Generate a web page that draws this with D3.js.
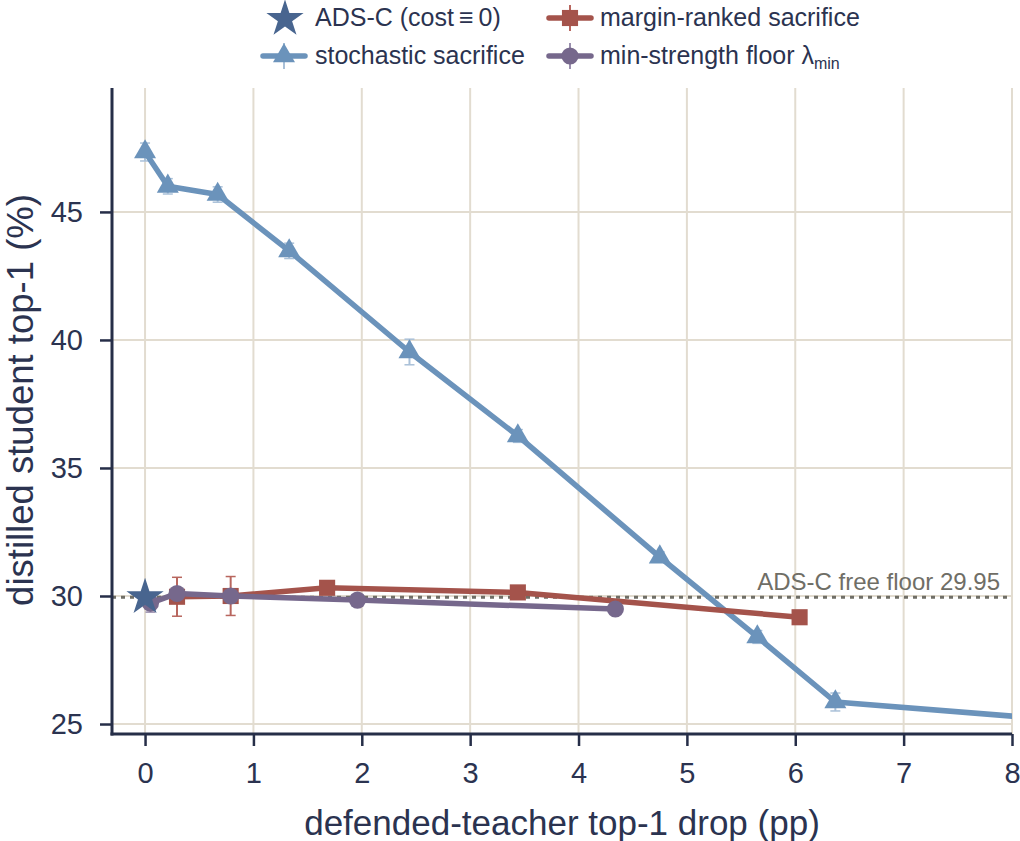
<!DOCTYPE html>
<html><head><meta charset="utf-8">
<script src="https://cdn.jsdelivr.net/npm/d3@7"></script>
<style>body{margin:0;background:#fff}svg{display:block}text{font-family:"Liberation Sans",Arial,sans-serif}</style>
</head><body><svg id="c" width="1020" height="841"></svg>
<script>
// ---- data ----
const xTicks = [0,1,2,3,4,5,6,7,8];
const yTicks = [25,30,35,40,45];
const stochX = [0, 0.21, 0.67, 1.33, 2.44, 3.44, 4.75, 5.65, 6.37, 9.0];
const stochY = [47.34, 46.0, 45.68, 43.48, 39.53, 36.25, 31.52, 28.4, 25.86, 24.97];
const stochE = [0.35, 0.3, 0.3, 0.3, 0.5, 0.25, 0.2, 0.25, 0.35, 0.2];
const marginX = [0.295, 0.79, 1.68, 3.44, 6.04];
const marginY = [29.97, 30.0, 30.32, 30.14, 29.17];
const marginE = [0.76, 0.76, 0.15, 0.15, 0.1];
const floorX = [0.05, 0.295, 0.79, 1.96, 4.34];
const floorY = [29.72, 30.1, 30.0, 29.84, 29.49];
const floorE = [0.35, 0.15, 0.1, 0.1, 0.1];
const adsX = [0], adsY = [29.95];
const floorValue = 29.95;
const floorLabel = "ADS-C free floor 29.95";

const svg = d3.select("#c");
const L=112, T=88, R=1012, B=734;
const x = d3.scaleLinear().domain([-0.305, 8]).range([L, R]);
const y = d3.scaleLinear().domain([24.61, 49.84]).range([B, T]);
const cText="#2b3350", cAxis="#262e48", cGrid="#e2dcd0";
const cBlue="#6b93bb", cBlueE="#a9c0d8", cRed="#a4534b", cRedE="#b8665e", cPur="#76688c", cPurE="#9a8fae", cStar="#48658f";

svg.append("defs").append("clipPath").attr("id","clip").append("rect")
  .attr("x",L).attr("y",T-20).attr("width",R-L).attr("height",B-T+20);

// grid
const g = svg.append("g");
g.selectAll(".gx").data(xTicks).join("line").attr("x1",d=>x(d)).attr("x2",d=>x(d))
  .attr("y1",T).attr("y2",B).attr("stroke",cGrid).attr("stroke-width",2);
g.selectAll(".gy").data(yTicks).join("line").attr("x1",L).attr("x2",R)
  .attr("y1",d=>y(d)).attr("y2",d=>y(d)).attr("stroke",cGrid).attr("stroke-width",2);

// floor line
svg.append("line").attr("x1",L).attr("x2",R).attr("y1",y(floorValue)).attr("y2",y(floorValue))
  .attr("stroke","#6f6e66").attr("stroke-width",3).attr("stroke-dasharray","4,5");
svg.append("text").attr("x",1000).attr("y",y(floorValue)-7).attr("text-anchor","end")
  .attr("font-size",24).attr("fill","#6f6e66").text(floorLabel);

const plot = svg.append("g").attr("clip-path","url(#clip)");
const line = d3.line().x(d=>x(d[0])).y(d=>y(d[1]));

function series(xs, ys, es, col, ecol, shape, size){
  const pts = xs.map((v,i)=>[v, ys[i], es[i]]);
  const eg = plot.append("g");
  pts.forEach(p=>{
    eg.append("line").attr("x1",x(p[0])).attr("x2",x(p[0])).attr("y1",y(p[1]-p[2])).attr("y2",y(p[1]+p[2]))
      .attr("stroke",ecol).attr("stroke-width",2);
    [p[1]-p[2], p[1]+p[2]].forEach(v=>eg.append("line").attr("x1",x(p[0])-5).attr("x2",x(p[0])+5)
      .attr("y1",y(v)).attr("y2",y(v)).attr("stroke",ecol).attr("stroke-width",1.5));
  });
  plot.append("path").datum(pts).attr("d",line).attr("fill","none").attr("stroke",col)
    .attr("stroke-width",5.5).attr("stroke-linejoin","round");
  plot.selectAll(null).data(pts).join("path")
    .attr("d",d3.symbol().type(shape).size(size))
    .attr("transform",d=>`translate(${x(d[0])},${y(d[1])})`).attr("fill",col);
}
series(stochX, stochY, stochE, cBlue, cBlueE, d3.symbolTriangle, 210);
series(marginX, marginY, marginE, cRed, cRedE, d3.symbolSquare, 260);
series(floorX, floorY, floorE, cPur, cPurE, d3.symbolCircle, 230);
plot.selectAll(null).data(adsX.map((v,i)=>[v,adsY[i]])).join("path")
  .attr("d",d3.symbol().type(d3.symbolStar).size(430))
  .attr("transform",d=>`translate(${x(d[0])},${y(d[1])})`).attr("fill",cStar);

// axes
const ax = svg.append("g").attr("transform",`translate(0,${B})`)
  .call(d3.axisBottom(x).tickValues(xTicks).tickSize(12).tickPadding(16).tickFormat(d3.format("d")));
const ay = svg.append("g").attr("transform",`translate(${L},0)`)
  .call(d3.axisLeft(y).tickValues(yTicks).tickSize(12).tickPadding(17).tickFormat(d3.format("d")));
[ax,ay].forEach(a=>{
  a.select(".domain").remove();
  a.selectAll(".tick line").attr("stroke",cAxis).attr("stroke-width",2.5);
  a.selectAll(".tick text").attr("fill",cText).attr("font-size",29).attr("font-family","Liberation Sans, Arial, sans-serif");
});
svg.append("line").attr("x1",L).attr("x2",L).attr("y1",T).attr("y2",B+1.5).attr("stroke",cAxis).attr("stroke-width",3);
svg.append("line").attr("x1",L-1.5).attr("x2",R).attr("y1",B).attr("y2",B).attr("stroke",cAxis).attr("stroke-width",3);

svg.append("text").attr("x",562).attr("y",835).attr("text-anchor","middle").attr("font-size",35)
  .attr("fill",cText).text("defended-teacher top-1 drop (pp)");
svg.append("text").attr("transform","translate(33,400) rotate(-90)").attr("text-anchor","middle")
  .attr("font-size",36.5).attr("fill",cText).text("distilled student top-1 (%)");

// legend
const lg = svg.append("g");
function handle(cx, cy, col, ecol, shape, size, bar){
  if(bar){
    lg.append("line").attr("x1",cx).attr("x2",cx).attr("y1",cy-13).attr("y2",cy+13).attr("stroke",ecol).attr("stroke-width",2);
    lg.append("line").attr("x1",cx-21).attr("x2",cx+21).attr("y1",cy).attr("y2",cy).attr("stroke",col).attr("stroke-width",5.5).attr("stroke-linecap","round");
  }
  lg.append("path").attr("d",d3.symbol().type(shape).size(size)).attr("transform",`translate(${cx},${cy})`).attr("fill",col);
}
handle(285,19,cStar,cStar,d3.symbolStar,430,false);
handle(284,56,cBlue,cBlueE,d3.symbolTriangle,210,true);
handle(570,18,cRed,cRedE,d3.symbolSquare,260,true);
handle(570,56,cPur,cPurE,d3.symbolCircle,230,true);
const lt = [[315,26,"ADS-C (cost\u2009\u2261\u20090)"],[315,64,"stochastic sacrifice"],[600,26,"margin-ranked sacrifice"]];
lt.forEach(t=>lg.append("text").attr("x",t[0]).attr("y",t[1]).attr("font-size",25).attr("fill",cText).text(t[2]));
const ft = lg.append("text").attr("x",600).attr("y",64).attr("font-size",25).attr("fill",cText);
ft.append("tspan").text("min-strength floor \u03bb");
ft.append("tspan").attr("font-size",16).attr("dy",5).text("min");
</script></body></html>
